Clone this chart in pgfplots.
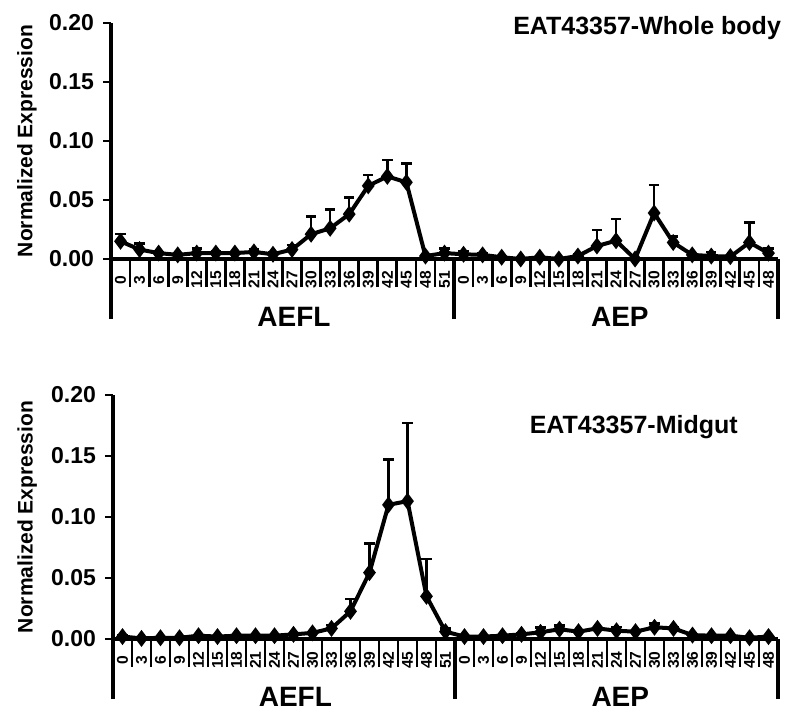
\documentclass[border=0pt]{standalone}
\usepackage{fontspec}
\setmainfont{Liberation Sans}
\usepackage{pgfplots}
\pgfplotsset{compat=1.18}

% x index: AEFL 0..51 -> 0.5..17.5, AEP 0..48 -> 18.5..34.5
\pgfplotsset{
  panel/.style={
    scale only axis,
    xmin=0, xmax=35, ymin=0, ymax=0.20,
    axis x line*=bottom, axis y line*=left,
    axis line style={line width=1.7pt},
    every tick/.style={black, line width=1.4pt},
    tick align=outside,
    clip=false,
    ytick={0,0.05,0.10,0.15,0.20},
    yticklabel style={font=\fontsize{11.5}{12}\selectfont\bfseries, xshift=-1pt,
      /pgf/number format/fixed, /pgf/number format/fixed zerofill,
      /pgf/number format/precision=2, /pgf/number format/assume math mode=true},
    ylabel={Normalized Expression},
    ylabel style={font=\fontsize{10.5}{12}\selectfont\bfseries},
    major tick length=4pt,
    xtick={0.5,1.5,...,34.5},
    xticklabels={0,3,6,9,12,15,18,21,24,27,30,33,36,39,42,45,48,51,
                 0,3,6,9,12,15,18,21,24,27,30,33,36,39,42,45,48},
    x tick style={draw=none},
    xticklabel style={yshift=-6.5pt, rotate=90, anchor=center,
      font=\fontsize{7.8}{8}\selectfont\bfseries},
    minor xtick={0,1,...,35},
    minor x tick style={draw=black, line width=1.4pt},
    minor tick length=14pt,
    extra x ticks={0,18,35},
    extra x tick labels={},
    extra x tick style={major tick length=30pt, x tick style={draw=black, line width=1.7pt}},
    error bars/y dir=plus,
    error bars/y explicit,
    error bars/error bar style={line width=1.2pt, black},
    error bars/error mark options={rotate=90, mark size=2.6pt, line width=1.2pt, black},
  },
  series/.style={black, line width=2pt, mark=diamond*, mark size=2.6pt,
    mark options={solid, fill=black}},
}
\tikzset{
  grp/.style={font=\fontsize{14}{16}\selectfont\bfseries, yshift=-29pt},
  ttl/.style={anchor=base east, font=\fontsize{12.5}{14}\selectfont\bfseries},
}

\begin{document}
\begin{tikzpicture}
\path[use as bounding box] (0,0) rectangle (400pt,359.5pt);

% top panel: whole body
\begin{axis}[panel, at={(55.5pt,230pt)}, width=333.5pt, height=118pt,
  ylabel style={at={(axis description cs:-0.126,0.5)}, anchor=center}]
\addplot+[series] coordinates {
 (0.5,0.015) +- (0,0.006)
 (1.5,0.008) +- (0,0.005)
 (2.5,0.005) +- (0,0.001)
 (3.5,0.0035) +- (0,0.0005)
 (4.5,0.005) +- (0,0.004)
 (5.5,0.005) +- (0,0.002)
 (6.5,0.005) +- (0,0.001)
 (7.5,0.006) +- (0,0.002)
 (8.5,0.004) +- (0,0.002)
 (9.5,0.008) +- (0,0.004)
 (10.5,0.021) +- (0,0.015)
 (11.5,0.026) +- (0,0.016)
 (12.5,0.038) +- (0,0.014)
 (13.5,0.062) +- (0,0.009)
 (14.5,0.070) +- (0,0.014)
 (15.5,0.065) +- (0,0.016)
 (16.5,0.0025) +- (0,0)
 (17.5,0.005) +- (0,0.004)
 (18.5,0.004) +- (0,0.003)
 (19.5,0.0035) +- (0,0.0015)
 (20.5,0.0015) +- (0,0)
 (21.5,0.0) +- (0,0)
 (22.5,0.0015) +- (0,0)
 (23.5,0.0) +- (0,0)
 (24.5,0.0025) +- (0,0.0015)
 (25.5,0.011) +- (0,0.0135)
 (26.5,0.0155) +- (0,0.0185)
 (27.5,0.0) +- (0,0)
 (28.5,0.039) +- (0,0.0235)
 (29.5,0.014) +- (0,0.005)
 (30.5,0.0035) +- (0,0)
 (31.5,0.0025) +- (0,0.0035)
 (32.5,0.002) +- (0,0)
 (33.5,0.014) +- (0,0.017)
 (34.5,0.005) +- (0,0.004)
};
\node[ttl] at (axis description cs:1.015,0.953) {EAT43357-Whole body};
\node[grp] at (axis cs:9.6,0) {AEFL};
\node[grp] at (axis cs:26.7,0) {AEP};
\end{axis}

% bottom panel: midgut
\begin{axis}[panel, at={(56.5pt,40pt)}, width=332.5pt, height=122pt,
  ylabel style={at={(axis description cs:-0.129,0.5)}, anchor=center}]
\addplot+[series] coordinates {
 (0.5,0.002) +- (0,0.001)
 (1.5,0.0005) +- (0,0)
 (2.5,0.001) +- (0,0)
 (3.5,0.001) +- (0,0)
 (4.5,0.0027) +- (0,0.0005)
 (5.5,0.002) +- (0,0)
 (6.5,0.0027) +- (0,0)
 (7.5,0.0027) +- (0,0)
 (8.5,0.0027) +- (0,0)
 (9.5,0.0038) +- (0,0)
 (10.5,0.005) +- (0,0)
 (11.5,0.0087) +- (0,0.003)
 (12.5,0.0227) +- (0,0.0103)
 (13.5,0.0544) +- (0,0.024)
 (14.5,0.110) +- (0,0.037)
 (15.5,0.113) +- (0,0.064)
 (16.5,0.035) +- (0,0.0306)
 (17.5,0.006) +- (0,0.0027)
 (18.5,0.002) +- (0,0)
 (19.5,0.002) +- (0,0)
 (20.5,0.0027) +- (0,0)
 (21.5,0.0038) +- (0,0.0012)
 (22.5,0.0055) +- (0,0.0038)
 (23.5,0.008) +- (0,0.003)
 (24.5,0.006) +- (0,0)
 (25.5,0.0087) +- (0,0)
 (26.5,0.0068) +- (0,0.003)
 (27.5,0.006) +- (0,0)
 (28.5,0.0096) +- (0,0.0032)
 (29.5,0.0087) +- (0,0.0013)
 (30.5,0.0032) +- (0,0)
 (31.5,0.0027) +- (0,0)
 (32.5,0.0027) +- (0,0)
 (33.5,0.001) +- (0,0)
 (34.5,0.002) +- (0,0)
};
\node[ttl] at (axis description cs:0.95,0.844) {EAT43357-Midgut};
\node[grp] at (axis cs:9.6,0) {AEFL};
\node[grp] at (axis cs:26.7,0) {AEP};
\end{axis}
\end{tikzpicture}
\end{document}
